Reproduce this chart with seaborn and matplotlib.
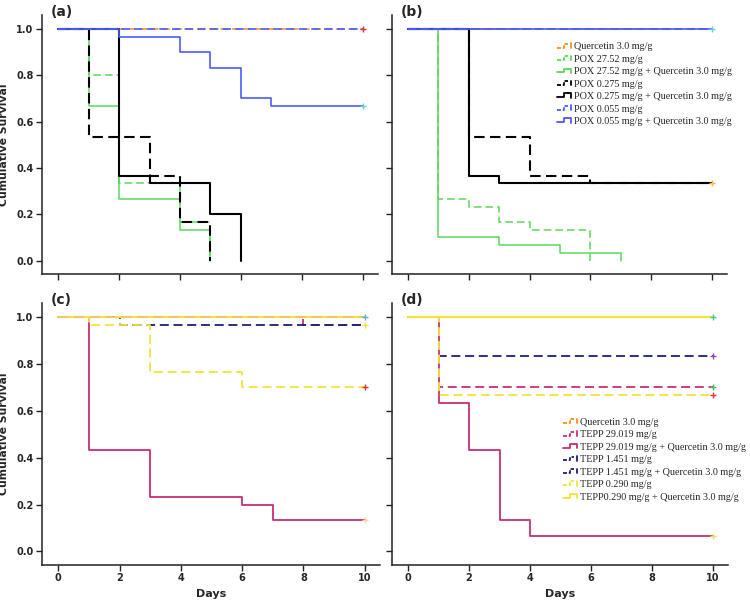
import matplotlib
matplotlib.use("Agg")
import matplotlib.pyplot as plt
from matplotlib.lines import Line2D
from matplotlib.legend_handler import HandlerBase
import seaborn as sns
import pandas as pd

# ---------------- data ----------------
day_ticks = [0, 2, 4, 6, 8, 10]
surv_ticks = [0.0, 0.2, 0.4, 0.6, 0.8, 1.0]

pox_labels = ["Quercetin 3.0 mg/g", "POX 27.52 mg/g", "POX 27.52 mg/g + Quercetin 3.0 mg/g",
              "POX 0.275 mg/g", "POX 0.275 mg/g + Quercetin 3.0 mg/g",
              "POX 0.055 mg/g", "POX 0.055 mg/g + Quercetin 3.0 mg/g"]
tepp_labels = ["Quercetin 3.0 mg/g", "TEPP 29.019 mg/g", "TEPP 29.019 mg/g + Quercetin 3.0 mg/g",
               "TEPP 1.451 mg/g", "TEPP 1.451 mg/g + Quercetin 3.0 mg/g",
               "TEPP 0.290 mg/g", "TEPP0.290 mg/g + Quercetin 3.0 mg/g"]

# panel (a)
a_quer_t = [0, 10];                 a_quer_s = [1.0, 1.0]
a_p27_t = [0, 1, 2, 4, 5];          a_p27_s = [1.0, 0.8, 0.333, 0.167, 0.0]
a_p27q_t = [0, 1, 2, 4, 5];         a_p27q_s = [1.0, 0.667, 0.267, 0.133, 0.0]
a_p0275_t = [0, 1, 3, 4, 5];        a_p0275_s = [1.0, 0.533, 0.367, 0.167, 0.0]
a_p0275q_t = [0, 2, 3, 5, 6];       a_p0275q_s = [1.0, 0.367, 0.333, 0.2, 0.0]
a_p0055_t = [0, 10];                a_p0055_s = [1.0, 1.0]
a_p0055q_t = [0, 2, 4, 5, 6, 7, 10]; a_p0055q_s = [1.0, 0.967, 0.9, 0.833, 0.7, 0.667, 0.667]

# panel (b)
b_quer_t = [0, 10];                 b_quer_s = [1.0, 1.0]
b_p27_t = [0, 1, 2, 3, 4, 6];       b_p27_s = [1.0, 0.267, 0.233, 0.167, 0.133, 0.0]
b_p27q_t = [0, 1, 3, 5, 7];         b_p27q_s = [1.0, 0.1, 0.067, 0.033, 0.0]
b_p0275_t = [0, 2, 4, 6, 10];       b_p0275_s = [1.0, 0.533, 0.367, 0.333, 0.333]
b_p0275q_t = [0, 2, 3, 10];         b_p0275q_s = [1.0, 0.367, 0.333, 0.333]
b_p0055_t = [0, 10];                b_p0055_s = [1.0, 1.0]
b_p0055q_t = [0, 10];               b_p0055q_s = [1.0, 1.0]

# panel (c)
c_quer_t = [0, 10];                 c_quer_s = [1.0, 1.0]
c_t29_t = [0, 8, 10];               c_t29_s = [1.0, 0.967, 0.967]
c_t29q_t = [0, 1, 3, 6, 7, 10];     c_t29q_s = [1.0, 0.433, 0.233, 0.2, 0.133, 0.133]
c_t1451_t = [0, 2, 10];             c_t1451_s = [1.0, 0.967, 0.967]
c_t1451q_t = [0, 10];               c_t1451q_s = [1.0, 1.0]
c_t029_t = [0, 1, 3, 6, 10];        c_t029_s = [1.0, 0.967, 0.767, 0.7, 0.7]
c_t029q_t = [0, 10];                c_t029q_s = [1.0, 1.0]

# panel (d)
d_quer_t = [0, 10];                 d_quer_s = [1.0, 1.0]
d_t29_t = [0, 1, 10];               d_t29_s = [1.0, 0.7, 0.7]
d_t29q_t = [0, 1, 2, 3, 4, 10];     d_t29q_s = [1.0, 0.633, 0.433, 0.133, 0.067, 0.067]
d_t1451_t = [0, 1, 10];             d_t1451_s = [1.0, 0.833, 0.833]
d_t1451q_t = [0, 10];               d_t1451q_s = [1.0, 1.0]
d_t029_t = [0, 1, 10];              d_t029_s = [1.0, 0.667, 0.667]
d_t029q_t = [0, 10];                d_t029q_s = [1.0, 1.0]

# censor marks at day 10 (value, colour)
a_cens = [(1.0, "#e8303a"), (0.667, "#5fd0e0")]
b_cens = [(1.0, "#5fd0e0"), (0.333, "#f0c040")]
c_cens = [(1.0, "#4fb8d8"), (0.967, "#f0e040"), (0.7, "#e8303a"), (0.133, "#f0d8a0")]
d_cens = [(1.0, "#40c8a0"), (0.833, "#a040c0"), (0.7, "#40c060"), (0.667, "#e8303a"), (0.067, "#f0e060")]

# ---------------- styles ----------------
ORANGE = "#ff8c1a"; GREEN = "#5cd65c"; BLACK = "#000000"; BLUE = "#4a5cff"
MAGENTA = "#c92d7a"; NAVY = "#1f1f78"; YELLOW = "#f2e43a"
DASH = (0, (5, 2.6))

sns.set_style("ticks")
plt.rcParams["font.family"] = ["DejaVu Sans"]

fig = plt.figure(figsize=(7.5, 6.05), dpi=100)
W, H = 750.0, 605.0


def make_ax(left, top, right, bottom):
    return fig.add_axes([left / W, 1 - bottom / H, (right - left) / W, (bottom - top) / H])


ax_a = make_ax(42, 15, 378, 274)
ax_b = make_ax(392, 15, 727, 274)
ax_c = make_ax(42, 303, 380, 565)
ax_d = make_ax(392, 303, 728, 565)


def draw(ax, t, s, color, ls, lw, label):
    df = pd.DataFrame({"Days": t, "Survival": s})
    sns.lineplot(data=df, x="Days", y="Survival", ax=ax, color=color, linestyle=ls,
                 linewidth=lw, drawstyle="steps-post", estimator=None, sort=False,
                 label=label, legend=False)


# panel a
draw(ax_a, a_quer_t, a_quer_s, ORANGE, DASH, 1.1, pox_labels[0])
draw(ax_a, a_p27q_t, a_p27q_s, GREEN, "-", 1.1, pox_labels[2])
draw(ax_a, a_p27_t, a_p27_s, GREEN, DASH, 1.1, pox_labels[1])
draw(ax_a, a_p0275q_t, a_p0275q_s, BLACK, "-", 1.5, pox_labels[4])
draw(ax_a, a_p0275_t, a_p0275_s, BLACK, DASH, 1.5, pox_labels[3])
draw(ax_a, a_p0055q_t, a_p0055q_s, BLUE, "-", 1.2, pox_labels[6])
draw(ax_a, a_p0055_t, a_p0055_s, BLUE, DASH, 1.2, pox_labels[5])

# panel b
draw(ax_b, b_quer_t, b_quer_s, ORANGE, DASH, 1.1, pox_labels[0])
draw(ax_b, b_p27q_t, b_p27q_s, GREEN, "-", 1.1, pox_labels[2])
draw(ax_b, b_p27_t, b_p27_s, GREEN, DASH, 1.1, pox_labels[1])
draw(ax_b, b_p0275q_t, b_p0275q_s, BLACK, "-", 1.5, pox_labels[4])
draw(ax_b, b_p0275_t, b_p0275_s, BLACK, DASH, 1.5, pox_labels[3])
draw(ax_b, b_p0055_t, b_p0055_s, BLUE, DASH, 1.2, pox_labels[5])
draw(ax_b, b_p0055q_t, b_p0055q_s, BLUE, "-", 1.2, pox_labels[6])

# panel c
draw(ax_c, c_t29_t, c_t29_s, MAGENTA, DASH, 1.3, tepp_labels[1])
draw(ax_c, c_t1451_t, c_t1451_s, NAVY, DASH, 1.3, tepp_labels[3])
draw(ax_c, c_t1451q_t, c_t1451q_s, NAVY, DASH, 1.3, tepp_labels[4])
draw(ax_c, c_t29q_t, c_t29q_s, MAGENTA, "-", 1.3, tepp_labels[2])
draw(ax_c, c_t029_t, c_t029_s, YELLOW, DASH, 1.3, tepp_labels[5])
draw(ax_c, c_t029q_t, c_t029q_s, YELLOW, "-", 1.5, tepp_labels[6])
draw(ax_c, c_quer_t, c_quer_s, "#f2c46a", DASH, 1.5, tepp_labels[0])

# panel d
draw(ax_d, d_t1451_t, d_t1451_s, NAVY, DASH, 1.3, tepp_labels[3])
draw(ax_d, d_t29_t, d_t29_s, MAGENTA, DASH, 1.3, tepp_labels[1])
draw(ax_d, d_t29q_t, d_t29q_s, MAGENTA, "-", 1.3, tepp_labels[2])
draw(ax_d, d_t029_t, d_t029_s, YELLOW, DASH, 1.3, tepp_labels[5])
draw(ax_d, d_t1451q_t, d_t1451q_s, NAVY, DASH, 1.3, tepp_labels[4])
draw(ax_d, d_quer_t, d_quer_s, ORANGE, DASH, 1.3, tepp_labels[0])
draw(ax_d, d_t029q_t, d_t029q_s, YELLOW, "-", 1.6, tepp_labels[6])

for ax, cens in [(ax_a, a_cens), (ax_b, b_cens), (ax_c, c_cens), (ax_d, d_cens)]:
    for val, col in cens:
        ax.plot([10], [val], marker="+", color=col, markersize=4, markeredgewidth=1.0,
                linestyle="none", zorder=5)

# ---------------- axes styling ----------------
panel_names = {ax_a: "(a)", ax_b: "(b)", ax_c: "(c)", ax_d: "(d)"}
for ax in [ax_a, ax_b, ax_c, ax_d]:
    ax.set_xlim(-0.53, 10.5)
    ax.set_ylim(-0.058, 1.06)
    ax.set_xticks(day_ticks)
    ax.set_yticks(surv_ticks)
    sns.despine(ax=ax)
    for sp in ["left", "bottom"]:
        ax.spines[sp].set_linewidth(1.1)
        ax.spines[sp].set_color("#222222")
    ax.tick_params(direction="out", length=4, width=1.0, color="#222222",
                   labelsize=7, pad=2)
    for lbl in ax.get_xticklabels() + ax.get_yticklabels():
        lbl.set_fontweight("bold")
    ax.set_xlabel("")
    ax.set_ylabel("")
    ax.text(0.025, 1.01, panel_names[ax], transform=ax.transAxes, fontsize=10,
            fontweight="bold", va="center", ha="left")

ax_a.set_yticklabels(["%.1f" % v for v in surv_ticks], fontweight="bold")
ax_c.set_yticklabels(["%.1f" % v for v in surv_ticks], fontweight="bold")
ax_c.set_xticklabels([str(v) for v in day_ticks], fontweight="bold")
ax_d.set_xticklabels([str(v) for v in day_ticks], fontweight="bold")
ax_a.set_xticklabels([])
ax_b.set_xticklabels([])
ax_b.set_yticklabels([])
ax_d.set_yticklabels([])

for ax in [ax_a, ax_c]:
    ax.set_ylabel("Cumulative Survival", fontsize=7.8, fontweight="bold")
    ax.yaxis.set_label_coords((9 - 42) / 336.0, 0.5)
for ax in [ax_c, ax_d]:
    ax.set_xlabel("Days", fontsize=8, fontweight="bold", labelpad=4)


# ---------------- legends with step icons ----------------
class StepHandler(HandlerBase):
    def create_artists(self, legend, orig_handle, xdescent, ydescent, width, height,
                       fontsize, trans):
        x0 = -xdescent
        y0 = -ydescent
        solid = orig_handle.get_linestyle() in ("-", "solid")
        xs = [x0, x0 + 0.45 * width, x0 + 0.45 * width, x0 + 0.75 * width]
        ys = [y0 + 0.25 * height, y0 + 0.25 * height, y0 + 0.8 * height, y0 + 0.8 * height]
        step = Line2D(xs, ys, color=orig_handle.get_color(),
                      linestyle=orig_handle.get_linestyle(), linewidth=1.3, transform=trans)
        if not solid:
            step.set_dashes((2.2, 1.0))
            tick = Line2D([x0 + 0.95 * width, x0 + 0.95 * width],
                          [y0 + 0.2 * height, y0 + 0.85 * height],
                          color=orig_handle.get_color(), linewidth=1.3, transform=trans)
        else:
            tick = Line2D([x0 + 0.75 * width, x0 + 0.95 * width, x0 + 0.95 * width],
                          [y0 + 0.8 * height, y0 + 0.8 * height, y0 + 0.2 * height],
                          color=orig_handle.get_color(), linewidth=1.3, transform=trans)
        return [step, tick]


pox_colors = [ORANGE, GREEN, GREEN, BLACK, BLACK, BLUE, BLUE]
pox_styles = ["--", "--", "-", "--", "-", "--", "-"]
tepp_colors = [ORANGE, MAGENTA, MAGENTA, NAVY, NAVY, YELLOW, YELLOW]
tepp_styles = ["--", "--", "-", "--", "--", "--", "-"]

for ax, labels, cols, stys, anchor in [
        (ax_b, pox_labels, pox_colors, pox_styles, (0.4925, 0.895)),
        (ax_d, tepp_labels, tepp_colors, tepp_styles, (0.509, 0.562))]:
    handles = [Line2D([], [], color=c, linestyle=s) for c, s in zip(cols, stys)]
    ax.legend(handles, labels, loc="upper left", bbox_to_anchor=anchor, frameon=False,
              prop={"family": "Liberation Serif", "size": 7.3}, handlelength=1.45,
              handletextpad=0.2, labelspacing=0.33, borderpad=0, borderaxespad=0,
              handler_map={Line2D: StepHandler()})

fig.savefig("out.png", dpi=100)
